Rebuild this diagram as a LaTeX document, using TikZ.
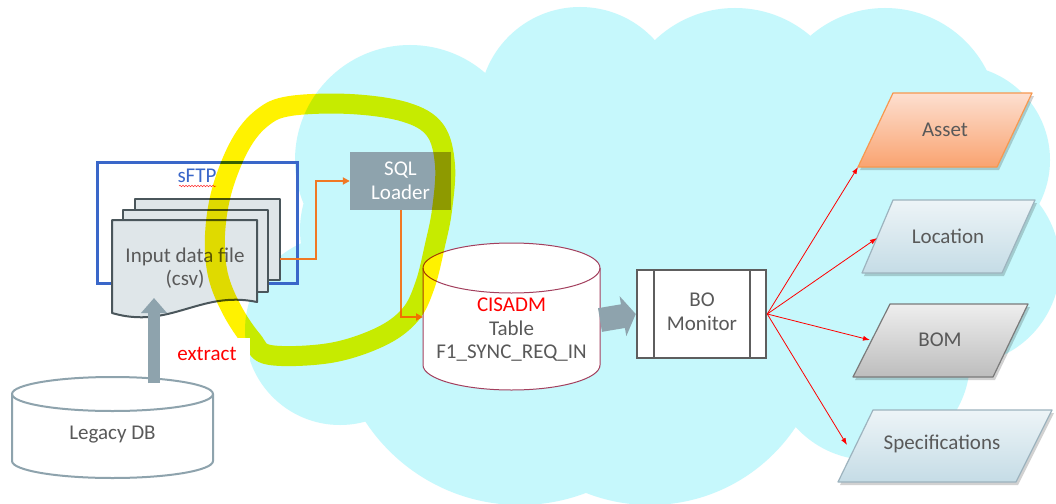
\documentclass[tikz,border=0pt]{standalone}
\usepackage{fontspec}
\setmainfont{Carlito}
\usetikzlibrary{arrows.meta,decorations.pathmorphing}
\definecolor{cloudc}{HTML}{C6F8FC}
\definecolor{txt}{HTML}{595959}
\definecolor{sftpblue}{HTML}{3A67C9}
\definecolor{docfill}{HTML}{DFE6E9}
\definecolor{docline}{HTML}{4A565B}
\definecolor{slate}{HTML}{8EA3AD}
\definecolor{orangec}{HTML}{F07824}
\definecolor{cylred}{HTML}{A3405E}
\definecolor{mongrey}{HTML}{5E5E5E}
\definecolor{assetTop}{HTML}{FDDFD0}
\definecolor{assetBot}{HTML}{F9A370}
\definecolor{assetLine}{HTML}{F7984F}
\definecolor{locTop}{HTML}{EDF4F7}
\definecolor{locBot}{HTML}{C5DCE6}
\definecolor{locLine}{HTML}{9DB3BE}
\definecolor{bomTop}{HTML}{EEEEEE}
\definecolor{bomBot}{HTML}{BDBDBD}
\definecolor{bomLine}{HTML}{7A7A7A}
\tikzset{
  lbl/.style={text=txt, align=center, inner sep=0pt},
  docpage/.style={fill=docfill, draw=docline, line width=2pt, line join=round},
  oarrow/.style={draw=orangec, line width=2pt, -{Triangle[length=7pt,width=7pt]}},
  rarrow/.style={draw=red, line width=0.8pt, -{Latex[length=7pt,width=5pt]}},
  para/.style={line width=1.2pt, line join=round},
  shad/.style={fill=black, opacity=0.18},
}
\begin{document}
\begin{tikzpicture}[x=1pt,y=-1pt,font=\fontsize{21}{23.5}\selectfont]
\useasboundingbox (0,0) rectangle (1056,503);
\fill[white] (0,0) rectangle (1056,503);
% cloud
\fill[cloudc]
  (410,160) circle[radius=115pt]
  (580,108) circle[radius=101pt]
  (735,124) circle[radius=116pt]
  (885,122) circle[radius=114pt]
  (955,160) circle[radius=95pt]
  (960,265) circle[radius=100pt]
  (870,360) circle[radius=100pt]
  (870,245) circle[radius=90pt]
  (650,330) circle[radius=175pt]
  (520,320) circle[radius=185pt]
  (340,330) circle[radius=95pt]
  (400,230) circle[radius=100pt]
  (650,250) circle[radius=200pt];
% sFTP box
\draw[sftpblue, line width=3pt] (97,162) rectangle (297,283);
\node[inner sep=0pt, text=sftpblue] (sftp) at (197,176) {sFTP};
\draw[red!80, line width=0.5pt, decorate, decoration={snake, amplitude=0.8pt, segment length=3pt}] (179,186) -- (216,186);
% document stack
\draw[docpage] (135,199) rectangle (280,280);
\draw[docpage] (123,210) rectangle (268,292);
\draw[docpage] (112,220) -- (257,220) -- (257,302) .. controls (200,290) and (170,330) .. (112,313) -- cycle;
\node[lbl] (input) at (185,268) {Input data file\\(csv)};
\coordinate (docR) at (280,259);
% SQL loader
\node[fill=slate, text=white, align=center, minimum width=101pt, minimum height=58pt, inner sep=0pt] (sql) at (400.5,181) {SQL\\Loader};
% Legacy DB
\filldraw[fill=white, draw=slate, line width=2pt] (12,394) -- (12,461) arc[start angle=180,end angle=360,x radius=100.5pt,y radius=17pt] -- (213,394) arc[start angle=0,end angle=180,x radius=100.5pt,y radius=17pt] -- cycle;
\draw[slate, line width=2pt] (12,394) arc[start angle=180,end angle=360,x radius=100.5pt,y radius=17pt];
\node[lbl] (legacy) at (112.5,435) {Legacy DB};
\coordinate (legTop) at (154,383);
\coordinate (docBot) at (154,298);
\draw[slate, line width=12pt, -{Triangle[width=25pt,length=15pt]}] (legTop) -- (docBot);
% CISADM cylinder
\filldraw[fill=white, draw=cylred, line width=1pt] (423,268) -- (423,365) arc[start angle=180,end angle=360,x radius=88.5pt,y radius=25pt] -- (600,268) arc[start angle=0,end angle=180,x radius=88.5pt,y radius=25pt] -- cycle;
\draw[cylred, line width=1pt] (423,268) arc[start angle=180,end angle=360,x radius=88.5pt,y radius=25pt];
\node[lbl] (cis) at (511.5,330) {\textcolor{red}{CISADM}\\Table\\F1\_SYNC\_REQ\_IN};
\coordinate (cisL) at (423,317);
\coordinate (cisR) at (600,320);
% orange connectors
\draw[oarrow] (docR) -- ++(36,0) |- (sql.west);
\draw[oarrow] (sql.south) |- (cisL);
% BO monitor
\node[draw=mongrey, fill=white, line width=2.5pt, minimum width=129pt, minimum height=88pt, inner sep=0pt] (bo) at (701.5,314) {};
\draw[mongrey, line width=2.5pt] (654,270) -- (654,358) (750,270) -- (750,358);
\node[lbl] (botext) at (702,312) {BO\\Monitor};
\draw[slate, line width=24pt, -{Triangle[width=40pt,length=13pt]}] (cisR) -- (bo.west);
% parallelograms
\fill[shad] (860,170) -- (895,96) -- (1034,96) -- (999,170) -- cycle;
\draw[para, draw=assetLine, top color=assetTop, bottom color=assetBot] (858,167) -- (893,93) -- (1032,93) -- (997,167) -- cycle;
\node[lbl] (asset) at (945,130) {Asset};
\fill[shad] (864,276) -- (895,203) -- (1037,203) -- (1004,276) -- cycle;
\draw[para, draw=locLine, top color=locTop, bottom color=locBot] (862,273) -- (893,200) -- (1035,200) -- (1002,273) -- cycle;
\node[lbl] (loc) at (948,236) {Location};
\fill[shad] (855,380) -- (892,307) -- (1030,307) -- (995,380) -- cycle;
\draw[para, draw=bomLine, top color=bomTop, bottom color=bomBot] (853,377) -- (890,304) -- (1028,304) -- (993,377) -- cycle;
\node[lbl] (bom) at (940,340) {BOM};
\fill[shad] (840,485) -- (875,413) -- (1054,413) -- (1018,485) -- cycle;
\draw[para, draw=locLine, top color=locTop, bottom color=locBot] (838,482) -- (873,410) -- (1052,410) -- (1016,482) -- cycle;
\node[lbl] (spec) at (942,444) {Specifications};
\coordinate (assetP) at (858,167);
\coordinate (locP) at (877,238);
\coordinate (bomP) at (870,340);
\coordinate (specP) at (847,445);
\draw[rarrow] (bo.east) -- (assetP);
\draw[rarrow] (bo.east) -- (locP);
\draw[rarrow] (bo.east) -- (bomP);
\draw[rarrow] (bo.east) -- (specP);
% highlighter loop
\begin{scope}[blend mode=multiply]
\draw[yellow, line width=20pt, line join=round] plot[smooth cycle, tension=0.6] coordinates {(290,106) (350,104) (405,112) (435,130) (445,165) (442,210) (435,245) (425,285) (410,315) (380,337) (330,353) (270,355) (252,340) (232,310) (218,275) (215,235) (222,190) (240,145) (262,118)};
\end{scope}
% extract label (white text box over the loop)
\node[text=red, fill=white, minimum width=86pt, minimum height=32pt, inner sep=0pt] (extract) at (207,354) {extract};
\end{tikzpicture}
\end{document}
